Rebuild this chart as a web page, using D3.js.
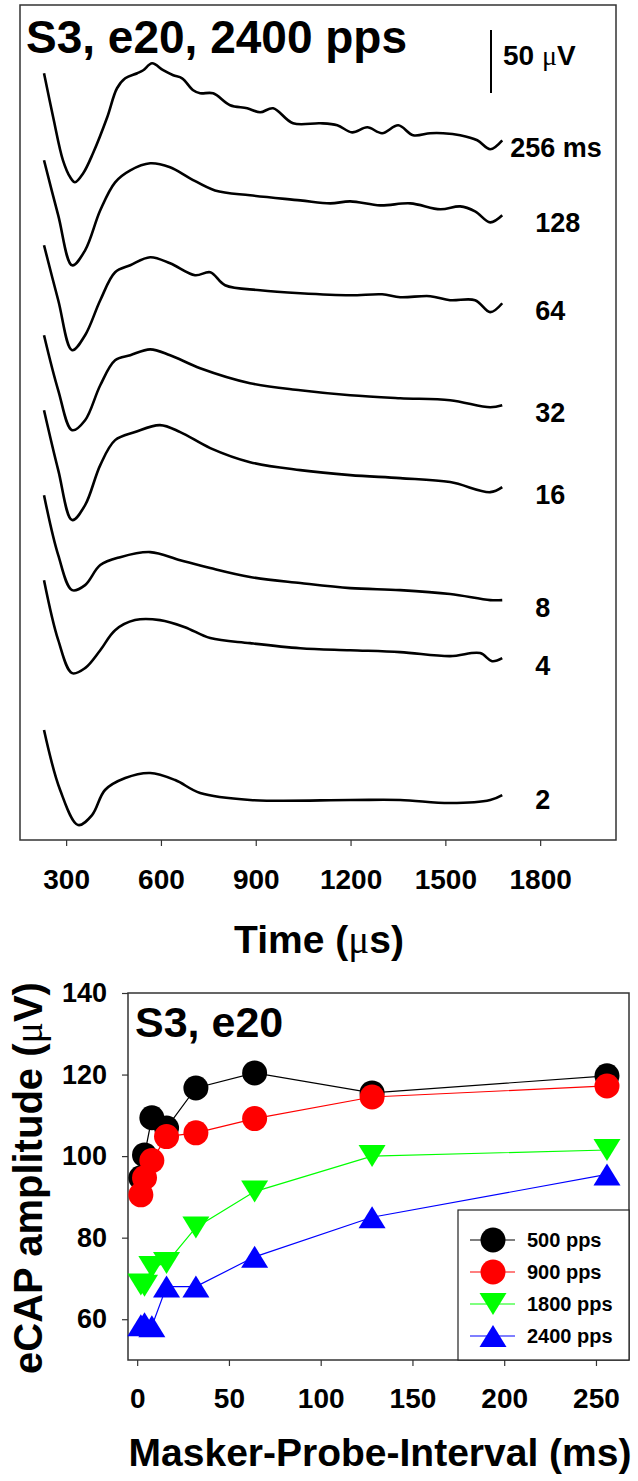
<!DOCTYPE html>
<html>
<head>
<meta charset="utf-8">
<script src="https://cdn.jsdelivr.net/npm/d3@7"></script>
<style>
body { margin: 0; background: #fff; }
text { font-family: Arial, "Liberation Sans", sans-serif; font-weight: bold; fill: #000; }
.mu { font-family: "Liberation Serif", serif; font-weight: normal; }
</style>
</head>
<body>
<div id="chart"></div>
<script>
// ---------- waveforms (time in us, amplitude in uV relative to trace end level) ----------
let traceLabels = ["256 ms", "128", "64", "32", "16", "8", "4", "2"];
let traceOffsets = [555.6, 496.0, 426.2, 345.2, 280.2, 190.5, 144.4, 38.1];

let wave256 = [[230,53.2],[259,18.3],[290,-15.9],[313,-29.4],[328,-33.3],[354,-26.2],[385,-10.3],[430,18.3],[461,41.3],[487,49.2],[525,53.2],[544,55.6],[572,61.1],[607,55.6],[639,51.6],[667,49.2],[702,39.7],[724,37.3],[765,37.3],[819,27.8],[873,25.4],[914,22.2],[955,25.4],[1018,13.5],[1104,13.5],[1158,11.9],[1205,6.3],[1253,10.3],[1300,5.6],[1351,11.9],[1398,4.0],[1452,5.6],[1493,5.6],[1547,4.0],[1601,0],[1642,-7.1],[1680,0]];
let wave128 = [[230,43.7],[275,0],[319,-39.7],[360,-27.8],[408,4],[455,26.2],[503,35.7],[566,41.3],[629,38.1],[692,29.4],[771,19.8],[882,15.9],[1041,11.9],[1136,9.5],[1199,11.1],[1294,7.9],[1389,9.5],[1484,4.8],[1547,7.1],[1594,3.2],[1642,-5.6],[1680,0]];
let wave64 = [[230,46],[275,2.4],[319,-37.3],[360,-25.4],[408,2.4],[455,24.6],[503,30.2],[566,36.5],[629,31.7],[708,22.2],[756,24.6],[803,14.3],[914,10.3],[1041,7.9],[1199,6.3],[1300,7.1],[1357,4.8],[1452,5.6],[1515,2.4],[1594,2.4],[1642,-7.1],[1680,0]];
let wave32 = [[230,55.6],[275,11.9],[319,-19.8],[360,-11.9],[408,15.9],[455,35.7],[503,39.7],[566,44.4],[629,39.7],[724,29.4],[882,17.5],[1041,11.9],[1199,7.9],[1357,5.6],[1515,4],[1642,-1.6],[1680,0]];
let wave16 = [[230,61],[275,13.5],[319,-26.2],[360,-14.3],[408,17.5],[455,37.3],[518,43.7],[597,49.2],[661,43.7],[756,31],[882,19.8],[1041,13.5],[1199,9.5],[1357,7.1],[1515,4],[1642,-4],[1680,0]];
let wave8 = [[230,83.3],[275,35.7],[319,7.9],[360,11.9],[408,27.8],[471,34.1],[566,38.1],[661,31.7],[756,25.4],[882,18.3],[1041,13.5],[1199,9.5],[1357,7.9],[1515,4.8],[1642,0],[1680,0]];
let wave4 = [[230,61.9],[275,14.3],[319,-11.9],[360,-7.9],[408,6.3],[455,22.2],[518,30.2],[597,30.2],[676,24.6],[756,15.9],[882,11.9],[1041,7.9],[1199,6.3],[1357,4.8],[1515,1.6],[1610,4.0],[1648,-2.4],[1680,0]];
let wave2 = [[230,49.2],[281,1.6],[338,-26.2],[382,-18.3],[423,1.6],[487,11.1],[566,15.1],[645,9.5],[724,-0.8],[882,-6.3],[1199,-6.3],[1357,-6.3],[1515,-8.7],[1642,-6.3],[1680,-2.4]];
let waves = [wave256, wave128, wave64, wave32, wave16, wave8, wave4, wave2];
let timeTicks = [300, 600, 900, 1200, 1500, 1800];

// ---------- amplitude vs MPI ----------
let mpi = [2, 4, 8, 16, 32, 64, 128, 256];
let seriesNames = ["500 pps", "900 pps", "1800 pps", "2400 pps"];
let amp500 = [94.7, 100.3, 109.4, 106.9, 116.7, 120.4, 115.5, 119.7];
let amp900 = [90.5, 94.7, 98.9, 104.8, 105.7, 109.2, 114.5, 117.2];
let amp1800 = [68.5, 68.2, 72.8, 73.8, 82.5, 91.3, 100.0, 101.5];
let amp2400 = [58.5, 59.0, 58.3, 68.0, 68.0, 75.3, 85.0, 95.5];
let mpiTicks = [0, 50, 100, 150, 200, 250];
let ampTicks = [60, 80, 100, 120, 140];

let seriesColors = ["#000000", "#ff0000", "#00ff00", "#0000ff"];
let seriesShapes = ["circle", "circle", "down", "up"];

let W = 638, H = 1481;
let svg = d3.select("#chart").append("svg")
    .attr("width", W).attr("height", H)
    .style("background", "#fff");

// ================= top panel =================
let topP = {left: 20, top: 5, right: 616, bottom: 840};

let x1 = d3.scaleLinear().domain([154, 2040]).range([topP.left, topP.right]);
let y1 = d3.scaleLinear().domain([0, 663]).range([topP.bottom, topP.top]);

let xAxis1 = svg.append("g")
    .attr("transform", "translate(0," + topP.bottom + ")")
    .call(d3.axisBottom(x1).tickValues(timeTicks).tickSize(6).tickFormat(d3.format("d")));
xAxis1.select(".domain").remove();
xAxis1.selectAll(".tick line").attr("stroke", "#333").attr("stroke-width", 1.2);
xAxis1.selectAll(".tick text")
    .attr("y", 49).attr("dy", null)
    .style("font-size", "28px");

svg.append("rect")
    .attr("x", topP.left).attr("y", topP.top)
    .attr("width", topP.right - topP.left).attr("height", topP.bottom - topP.top)
    .attr("fill", "none").attr("stroke", "#333").attr("stroke-width", 1.5);

let waveLine = d3.line()
    .curve(d3.curveCatmullRom.alpha(0.5));

svg.selectAll(".wave")
    .data(waves)
    .enter()
    .append("path")
    .attr("class", "wave")
    .attr("d", function (d, i) {
        return waveLine(d.map(function (p) {
            return [x1(p[0]), y1(traceOffsets[i] + p[1])];
        }));
    })
    .attr("fill", "none")
    .attr("stroke", "#000")
    .attr("stroke-width", 2.6)
    .attr("stroke-linejoin", "round");

svg.selectAll(".waveLabel")
    .data(traceLabels)
    .enter()
    .append("text")
    .attr("class", "waveLabel")
    .attr("x", function (d, i) {
        let last = waves[i][waves[i].length - 1];
        return x1(last[0]) + (i === 0 ? 8 : 33);
    })
    .attr("y", function (d, i) { return y1(traceOffsets[i]) + 17; })
    .style("font-size", "27px")
    .text(function (d) { return d; });

svg.append("text")
    .attr("x", 26).attr("y", 53)
    .style("font-size", "46px")
    .text("S3, e20, 2400 pps");

// scale bar 50 uV
let barTop = 30;
svg.append("line")
    .attr("x1", 491).attr("x2", 491)
    .attr("y1", barTop).attr("y2", barTop + (y1(0) - y1(50)))
    .attr("stroke", "#000").attr("stroke-width", 2);
let barText = svg.append("text").attr("x", 503).attr("y", 65).style("font-size", "28px");
barText.append("tspan").text("50 ");
barText.append("tspan").attr("class", "mu").text("\u03bc");
barText.append("tspan").text("V");

let tLabel = svg.append("text")
    .attr("x", 319).attr("y", 953)
    .attr("text-anchor", "middle")
    .style("font-size", "39px");
tLabel.append("tspan").text("Time (");
tLabel.append("tspan").attr("class", "mu").text("\u03bc");
tLabel.append("tspan").text("s)");

// ================= bottom panel =================
let botP = {left: 128, top: 993, right: 629, bottom: 1360};
let x2 = d3.scaleLinear().domain([-5, 268]).range([botP.left, botP.right]);
let y2 = d3.scaleLinear().domain([50, 140]).range([botP.bottom, botP.top]);

let xAxis2 = svg.append("g")
    .attr("transform", "translate(0," + botP.bottom + ")")
    .call(d3.axisBottom(x2).tickValues(mpiTicks).tickSize(6));
xAxis2.select(".domain").remove();
xAxis2.selectAll(".tick line").attr("stroke", "#333").attr("stroke-width", 1.2);
xAxis2.selectAll(".tick text").attr("y", 48).attr("dy", null).style("font-size", "28px");

let yAxis2 = svg.append("g")
    .attr("transform", "translate(" + botP.left + ",0)")
    .call(d3.axisLeft(y2).tickValues(ampTicks).tickSize(6).tickPadding(15));
yAxis2.select(".domain").remove();
yAxis2.selectAll(".tick line").attr("stroke", "#333").attr("stroke-width", 1.2);
yAxis2.selectAll(".tick text").style("font-size", "27px");

svg.append("rect")
    .attr("x", botP.left).attr("y", botP.top)
    .attr("width", botP.right - botP.left).attr("height", botP.bottom - botP.top)
    .attr("fill", "none").attr("stroke", "#333").attr("stroke-width", 1.5);

function symbolPath(shape) {
    if (shape === "circle") return d3.symbol(d3.symbolCircle, Math.PI * 12.5 * 12.5)();
    let w = 27, h = 22;
    if (shape === "down") return "M" + (-w / 2) + "," + (-h / 2) + "L" + (w / 2) + "," + (-h / 2) + "L0," + (h / 2) + "Z";
    return "M" + (-w / 2) + "," + (h / 2) + "L" + (w / 2) + "," + (h / 2) + "L0," + (-h / 2) + "Z";
}

let ampSeries = [amp500, amp900, amp1800, amp2400];
let ampLine = d3.line()
    .x(function (d) { return x2(d[0]); })
    .y(function (d) { return y2(d[1]); });

ampSeries.forEach(function (vals, s) {
    let pts = mpi.map(function (m, k) { return [m, vals[k]]; });
    let g = svg.append("g");
    g.append("path")
        .attr("d", ampLine(pts))
        .attr("fill", "none")
        .attr("stroke", seriesColors[s])
        .attr("stroke-width", 1.2);
    g.selectAll("path.pt")
        .data(pts)
        .enter()
        .append("path")
        .attr("class", "pt")
        .attr("d", symbolPath(seriesShapes[s]))
        .attr("transform", function (d) { return "translate(" + x2(d[0]) + "," + y2(d[1]) + ")"; })
        .attr("fill", seriesColors[s]);
});

svg.append("text")
    .attr("x", 135).attr("y", 1037)
    .style("font-size", "43px")
    .text("S3, e20");

// legend
let leg = svg.append("g");
leg.append("rect")
    .attr("x", 458).attr("y", 1210).attr("width", botP.right - 458).attr("height", botP.bottom - 1210)
    .attr("fill", "#fff").attr("stroke", "#222").attr("stroke-width", 1.2);
seriesNames.forEach(function (name, s) {
    let cy = 1240 + s * 32;
    leg.append("line")
        .attr("x1", 470).attr("x2", 515).attr("y1", cy).attr("y2", cy)
        .attr("stroke", seriesColors[s]).attr("stroke-width", 1.2);
    leg.append("path")
        .attr("d", symbolPath(seriesShapes[s]))
        .attr("transform", "translate(493," + cy + ")")
        .attr("fill", seriesColors[s]);
    leg.append("text")
        .attr("x", 527).attr("y", cy).attr("dy", "0.36em")
        .style("font-size", "20px")
        .text(name);
});

let yLab = svg.append("text")
    .attr("transform", "translate(42,1178) rotate(-90)")
    .attr("text-anchor", "middle")
    .style("font-size", "40px");
yLab.append("tspan").text("eCAP amplitude (");
yLab.append("tspan").attr("class", "mu").text("\u03bc");
yLab.append("tspan").text("V)");

svg.append("text")
    .attr("x", 380).attr("y", 1466)
    .attr("text-anchor", "middle")
    .style("font-size", "39px")
    .text("Masker-Probe-Interval (ms)");
</script>
</body>
</html>
